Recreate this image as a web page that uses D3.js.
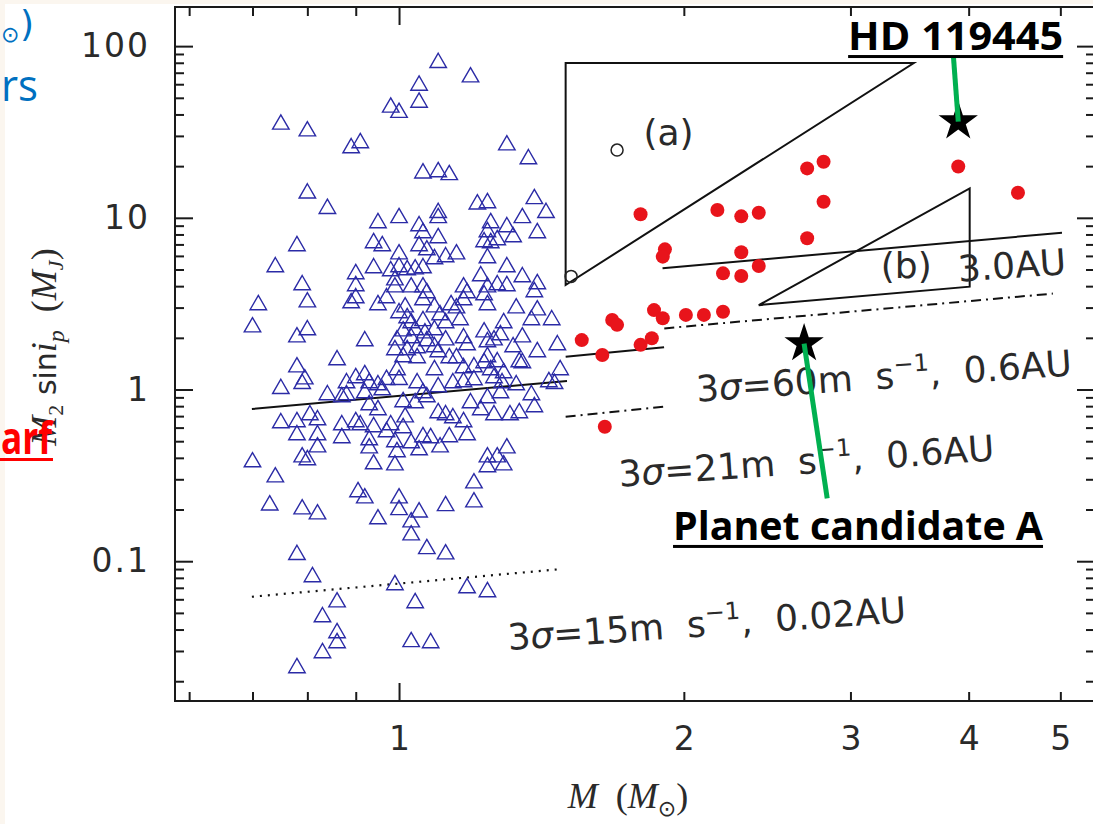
<!DOCTYPE html>
<html>
<head>
<meta charset="utf-8">
<script src="https://cdn.jsdelivr.net/npm/d3@7/dist/d3.min.js"></script>
<style>
html,body{margin:0;padding:0;background:#fff;}
svg{display:block;}
text{white-space:pre;}
</style>
</head>
<body>
<svg id="chart" width="1093" height="824"></svg>
<script>
// ================= DATA =================
// tick values / labels
const xTickLabels = [1, 2, 3, 4, 5];
const xMinorTicks = [0.6, 0.7, 0.8, 0.9, 2, 3, 4, 5];
const xMajorTicks = [1];
const yTickLabels = [0.1, 1, 10, 100];
const yMinorTicks = [0.02,0.03,0.04,0.05,0.06,0.07,0.08,0.09,
                     0.2,0.3,0.4,0.5,0.6,0.7,0.8,0.9,
                     2,3,4,5,6,7,8,9,
                     20,30,40,50,60,70,80,90];

// blue open triangles: [stellar mass M (Msun), M2 sin i (MJ)]
const dwarfHosts = [
 [1.10,80],[1.19,66],[1.05,59],[1.05,47],[0.98,44],[1.00,41],[0.75,35],[0.80,32],[0.89,25.5],[0.91,27.3],
 [1.30,26.5],[1.37,22],[1.06,18.2],[1.10,18.5],[1.13,17.8],[0.80,13.9],[0.84,11.3],[1.39,12.9],[1.21,12.0],[1.24,12.2],
 [1.43,10.7],[1.10,10.7],[1.10,10.0],[0.95,9.33],[1.00,10.0],[1.05,8.96],[1.25,9.33],[1.30,8.84],[1.35,10.0],[1.40,8.16],
 [1.06,8.16],[1.10,7.63],[1.24,8.27],[1.23,7.23],[1.25,7.14],[1.27,7.43],[1.32,7.73],[0.78,6.86],[0.94,7.14],[0.96,6.86],
 [1.05,6.86],[1.07,6.49],[1.00,6.15],[1.15,6.15],[1.12,5.91],[1.09,5.76],[1.24,5.83],[0.74,5.17],[0.94,5.10],[0.90,4.71],
 [0.98,4.90],[1.00,5.17],[1.04,5.03],[1.06,5.10],[1.30,5.17],[1.22,4.58],[1.35,4.52],[0.79,4.06],[0.90,4.01],[0.99,4.34],
 [0.99,3.95],[1.03,3.95],[1.06,3.95],[1.17,3.95],[1.24,3.95],[1.27,4.06],[1.30,4.01],[1.40,4.12],[1.39,3.70],[1.02,4.97],
 [1.07,3.65],[1.18,3.65],[1.23,3.55],
 [0.71,3.11],[0.70,2.31],[0.78,2.02],[0.80,2.22],[0.80,3.23],[0.78,1.35],[0.795,1.15],[0.79,1.08],[0.75,1.01],[0.75,0.638],
 [0.78,0.647],[0.78,0.543],[0.805,0.710],[0.82,0.664],[0.82,0.543],[0.82,0.462],[0.79,0.404],[0.80,0.389],[0.70,0.378],[0.74,0.309],
 [0.84,0.929],[0.86,1.485],[0.87,0.904],[0.88,0.929],[0.88,1.091],[0.90,1.167],[0.89,3.19],[0.90,3.41],[0.92,1.916],[0.92,1.215],
 [0.93,1.091],[0.95,1.062],[0.87,0.621],[0.87,0.522],[0.90,0.647],[0.91,0.621],[0.94,0.605],[0.93,0.508],[0.93,0.456],[0.95,0.760],
 [0.93,0.812],[0.94,0.368],[0.95,3.11],[0.97,3.41],[0.98,0.621],[0.97,0.566],[0.99,0.495],[0.995,0.433],[0.99,0.363],[0.995,1.94],
 [0.99,1.70],[0.995,1.30],[1.00,2.79],[1.00,1.14],[0.96,0.993],[0.92,0.954],[0.97,1.14],
 [1.01,2.19],[1.02,2.61],[1.03,2.44],[1.03,1.995],[1.02,1.70],[1.01,1.547],[1.04,2.22],[1.045,1.744],[1.045,1.526],[1.045,1.091],
 [1.04,0.834],[1.01,0.846],[1.015,0.691],[1.01,0.597],[1.03,0.488],[1.05,0.444],[1.06,0.529],[1.06,3.32],[1.06,2.51],[1.065,2.13],
 [1.06,0.954],[1.07,1.916],[1.07,0.904],[1.08,0.522],[1.09,1.768],[1.09,1.30],[1.09,2.22],[1.10,1.654],[1.10,1.034],[1.10,0.730],
 [1.105,2.716],[1.105,0.462],[1.12,1.94],[1.12,2.44],[1.12,0.710],[1.13,1.526],[1.13,0.529],[1.135,3.11],[1.14,0.682],[1.14,1.091],
 [1.15,1.526],[1.16,2.54],[1.17,1.995],[1.17,1.334],[1.17,1.106],[1.17,0.647],[1.18,1.816],[1.18,0.543],[1.19,0.834],
 [1.20,1.352],[1.20,1.136],[1.22,0.760],[1.23,2.16],[1.23,1.427],[1.24,1.89],[1.24,1.547],[1.24,0.404],[1.24,0.892],[1.24,0.354],
 [1.25,1.30],[1.26,1.167],[1.26,1.94],[1.26,0.710],[1.27,1.446],[1.27,0.404],[1.28,2.077],[1.28,0.954],[1.285,1.091],[1.29,1.248],
 [1.29,2.44],[1.29,0.363],[1.30,0.456],[1.31,0.710],[1.32,1.768],[1.33,1.062],[1.34,0.730],[1.34,1.446],[1.35,2.02],[1.35,1.427],
 [1.38,0.929],[1.39,0.791],[1.40,1.654],[1.44,1.106],[1.45,2.54],[1.47,1.816],[1.48,1.30],[1.46,1.08],[1.33,2.98],[1.40,2.90],
 [1.38,2.54],[1.015,3.02],[1.09,3.02],[1.15,2.98],[1.17,3.32],[1.24,3.11],
 [0.73,0.212],[0.79,0.201],[0.82,0.188],[0.905,0.253],[0.92,0.233],[0.95,0.176],[1.00,0.233],[1.00,0.199],[1.03,0.169],[1.05,0.193],
 [1.12,0.210],[1.20,0.285],[1.20,0.221],[1.03,0.142],[1.07,0.118],[1.12,0.110],[0.78,0.109],[0.81,0.081],[0.99,0.0727],[1.18,0.0698],
 [1.24,0.0662],[0.86,0.0578],[1.04,0.0571],[0.83,0.0473],[0.86,0.0382],[0.86,0.0334],[0.83,0.0292],[1.03,0.0339],[1.08,0.0334],[0.78,0.0239]
];

// red filled circles: giant-star planets
const giantHosts = [
 [1.80,10.5],[2.17,11.1],[2.30,10.2],[2.40,10.7],[2.70,19.4],[2.81,21.2],[2.81,12.4],[2.70,7.6],[3.90,19.9],[4.51,14.0],
 [1.91,6.55],[1.90,5.94],[2.30,6.30],[2.40,5.24],[2.20,4.75],[2.30,4.58],[1.86,2.90],[1.90,2.60],[2.01,2.72],[2.10,2.72],
 [2.20,2.84],[1.68,2.54],[1.70,2.38],[1.56,1.94],[1.64,1.59],[1.80,1.82],[1.85,1.99],[1.65,0.607]
];

// open circles
const openPoints = [[1.70,24.8],[1.52,4.56]];

// black stars: HD 119445 and planet candidate A
const starNames = ["HD 119445", "Planet candidate A"];
const starPoints = [[3.90,36.3],[2.68,1.85]];

// regions (a) and (b)
const regionA = [[1.50,79.7],[3.50,79.7],[1.50,4.06]];
const regionB = [[2.40,3.10],[4.01,14.85],[4.01,3.97]];

// detection-limit lines
const solidLines = [
 [[0.699,0.770],[1.505,1.121]],
 [[1.50,1.553],[1.906,1.761]],
 [[1.899,5.08],[5.02,8.19]]
];
const dashDotLines = [
 [[1.50,0.694],[1.907,0.794]],
 [[1.907,2.27],[4.91,3.62]]
];
const dottedLines = [
 [[0.699,0.0621],[1.474,0.0897]]
];

// ================= LAYOUT =================
const svg = d3.select("#chart");
const W = 1093, H = 824;
const plot = {left:175, right:1095, top:7, bottom:701};
const x = d3.scaleLog().domain([0.5797, 5.44]).range([plot.left, plot.right]);
const y = d3.scaleLog().domain([0.01534, 169]).range([plot.bottom, plot.top]);
const ink = "#1a1a1a";
const annFont = "DejaVu Sans";
const textInk = "#2a2a2a";

// backgrounds
svg.append("rect").attr("width",W).attr("height",H).attr("fill","#fbf6ef");
svg.append("rect").attr("x",5).attr("y",4).attr("width",W-5).attr("height",H-4).attr("fill","#ffffff");

// frame
svg.append("rect").attr("x",plot.left).attr("y",plot.top)
  .attr("width",plot.right-plot.left).attr("height",plot.bottom-plot.top)
  .attr("fill","none").attr("stroke",ink).attr("stroke-width",2);

// ticks via d3 axes
function tickSet(axisFn, scale, vals, size, tr){
  const g = svg.append("g").attr("transform",tr)
    .call(axisFn(scale).tickValues(vals).tickSize(size).tickFormat(""));
  g.select(".domain").remove();
  g.selectAll("line").attr("stroke",ink).attr("stroke-width",2);
}
tickSet(d3.axisBottom, x, xMinorTicks, -9, `translate(0,${plot.bottom})`);
tickSet(d3.axisBottom, x, xMajorTicks, -18, `translate(0,${plot.bottom})`);
tickSet(d3.axisTop, x, xMinorTicks, -9, `translate(0,${plot.top})`);
tickSet(d3.axisTop, x, xMajorTicks, -18, `translate(0,${plot.top})`);
tickSet(d3.axisLeft, y, yMinorTicks, -9, `translate(${plot.left},0)`);
tickSet(d3.axisLeft, y, yTickLabels, -18, `translate(${plot.left},0)`);
tickSet(d3.axisRight, y, yMinorTicks, -9, `translate(${plot.right},0)`);
tickSet(d3.axisRight, y, yTickLabels, -18, `translate(${plot.right},0)`);

// tick labels
const gx = svg.append("g").attr("transform",`translate(0,${plot.bottom})`)
  .call(d3.axisBottom(x).tickValues(xTickLabels).tickSize(0).tickPadding(26).tickFormat(d3.format("d")));
gx.select(".domain").remove();
gx.selectAll("text").attr("font-family",annFont).attr("font-size",33).attr("fill",textInk);

const gy = svg.append("g").attr("transform",`translate(${plot.left},0)`)
  .call(d3.axisLeft(y).tickValues(yTickLabels).tickSize(0).tickPadding(25).tickFormat(d => String(d)));
gy.select(".domain").remove();
gy.selectAll("text").attr("font-family",annFont).attr("font-size",33).attr("fill",textInk).attr("letter-spacing",2);

// axis titles
const xt = svg.append("text").attr("x",628).attr("y",808).attr("text-anchor","middle")
  .attr("font-family","Liberation Serif").attr("font-size",36).attr("fill",textInk);
xt.append("tspan").attr("font-style","italic").text("M");
xt.append("tspan").text("  (");
xt.append("tspan").attr("font-style","italic").text("M");
xt.append("tspan").attr("font-family","DejaVu Sans").attr("font-size",22).attr("dy",8).text("⊙");
xt.append("tspan").attr("dy",-8).text(")");

const yt = svg.append("text").attr("transform","translate(56,347) rotate(-90)").attr("text-anchor","middle")
  .attr("font-family","Liberation Serif").attr("font-size",36).attr("fill",textInk);
yt.append("tspan").attr("font-style","italic").text("M");
yt.append("tspan").attr("font-size",22).attr("dy",7).text("2");
yt.append("tspan").attr("dy",-7).attr("font-family","DejaVu Sans").attr("font-size",30).text(" sin");
yt.append("tspan").attr("font-style","italic").text("i");
yt.append("tspan").attr("font-style","italic").attr("font-size",24).attr("dy",8).text("p");
yt.append("tspan").attr("dy",-8).text("  (");
yt.append("tspan").attr("font-style","italic").text("M");
yt.append("tspan").attr("font-style","italic").attr("font-size",22).attr("dy",7).text("J");
yt.append("tspan").attr("dy",-7).text(")");

// lines
const seg = d3.line().x(d => x(d[0])).y(d => y(d[1]));
svg.append("g").selectAll("path").data(solidLines).join("path")
  .attr("d",seg).attr("fill","none").attr("stroke","#111").attr("stroke-width",2);
svg.append("g").selectAll("path").data(dashDotLines).join("path")
  .attr("d",seg).attr("fill","none").attr("stroke","#111").attr("stroke-width",2)
  .attr("stroke-dasharray","10,5,2,5");
svg.append("g").selectAll("path").data(dottedLines).join("path")
  .attr("d",seg).attr("fill","none").attr("stroke","#111").attr("stroke-width",2.2)
  .attr("stroke-dasharray","2,6");

// regions
svg.append("g").selectAll("path").data([regionA, regionB]).join("path")
  .attr("d", d => seg(d) + "Z").attr("fill","none").attr("stroke","#111").attr("stroke-width",2);

// triangles
svg.append("g").selectAll("path").data(dwarfHosts).join("path")
  .attr("transform", d => `translate(${x(d[0])},${y(d[1])})`)
  .attr("d", d3.symbol(d3.symbolTriangle).size(118))
  .attr("fill","none").attr("stroke","#2b2ba6").attr("stroke-width",1.4);

// red dots
svg.append("g").selectAll("circle").data(giantHosts).join("circle")
  .attr("cx", d => x(d[0])).attr("cy", d => y(d[1])).attr("r",7).attr("fill","#e8141b");

// open circles
svg.append("g").selectAll("circle").data(openPoints).join("circle")
  .attr("cx", d => x(d[0])).attr("cy", d => y(d[1])).attr("r",6)
  .attr("fill","none").attr("stroke","#222").attr("stroke-width",1.5);

// annotations (positions in data coordinates)
const ann = svg.append("g").attr("font-family",annFont).attr("font-size",36).attr("fill",textInk);
function plainLabel(txt, at, rot){
  const px = x(at[0]), py = y(at[1]);
  ann.append("text").attr("transform",`translate(${px},${py}) rotate(${rot})`).text(txt);
}
plainLabel("(a)", [1.813,26.5], 0);
plainLabel("(b)", [3.23,4.46], 0);
plainLabel("3.0AU", [3.905,4.25], -4);

const sensLabels = [
  {v:"60", tail:",  0.6AU", at:[2.065,0.849]},
  {v:"21", tail:",  0.6AU", at:[1.710,0.2716]},
  {v:"15", tail:",  0.02AU", at:[1.305,0.0304]}
];
sensLabels.forEach(s => {
  const t = ann.append("text")
    .attr("transform",`translate(${x(s.at[0])},${y(s.at[1])}) rotate(-4)`);
  t.append("tspan").text("3");
  t.append("tspan").attr("font-style","italic").text("σ");
  t.append("tspan").text("=" + s.v + "m  s");
  t.append("tspan").attr("font-size",24).attr("dy",-15).text("−1");
  t.append("tspan").attr("dy",15).text(s.tail);
});

// stars
svg.append("g").selectAll("path").data(starPoints).join("path")
  .attr("transform", d => `translate(${x(d[0])},${y(d[1])})`)
  .attr("d", d3.symbol(d3.symbolStar).size(480)).attr("fill","#000");

// pointer lines + callout labels
const callouts = [
  {name:starNames[0], from:[3.855,86.1], to:starPoints[0], label:[2.983,94.9], width:215},
  {name:starNames[1], from:starPoints[1], to:[2.835,0.2326], label:[1.948,0.133], width:370}
];
callouts.forEach(c => {
  svg.append("path").attr("d", seg([c.from, c.to]))
    .attr("stroke","#00b050").attr("stroke-width",5).attr("fill","none");
  const lx = x(c.label[0]), ly = y(c.label[1]);
  svg.append("text").attr("x",lx).attr("y",ly)
    .attr("font-family","Open Sans").attr("font-weight",700).attr("font-size",40)
    .attr("fill","#000").attr("textLength",c.width).attr("lengthAdjust","spacingAndGlyphs")
    .text(c.name);
  svg.append("rect").attr("x",lx).attr("y",ly+5).attr("width",c.width).attr("height",3).attr("fill","#000");
});

// slide text overlapping at the left edge (kept inside the canvas)
svg.append("text").attr("x",1).attr("y",42)
  .attr("font-family","DejaVu Sans").attr("font-size",22).attr("fill","#0070c0").text("⊙");
svg.append("text").attr("x",20).attr("y",36)
  .attr("font-family","DejaVu Sans").attr("font-size",36).attr("fill","#0070c0").text(")");
svg.append("text").attr("x",1).attr("y",101)
  .attr("font-family","Open Sans").attr("font-size",44).attr("fill","#0070c0")
  .attr("textLength",37).attr("lengthAdjust","spacingAndGlyphs").text("rs");
svg.append("text").attr("x",1).attr("y",454)
  .attr("font-family","Open Sans").attr("font-weight",700).attr("font-size",44).attr("fill","#ff0000")
  .attr("textLength",51).attr("lengthAdjust","spacingAndGlyphs").text("arf");
svg.append("rect").attr("x",0).attr("y",458).attr("width",53).attr("height",3).attr("fill","#ff0000");
</script>
</body>
</html>
